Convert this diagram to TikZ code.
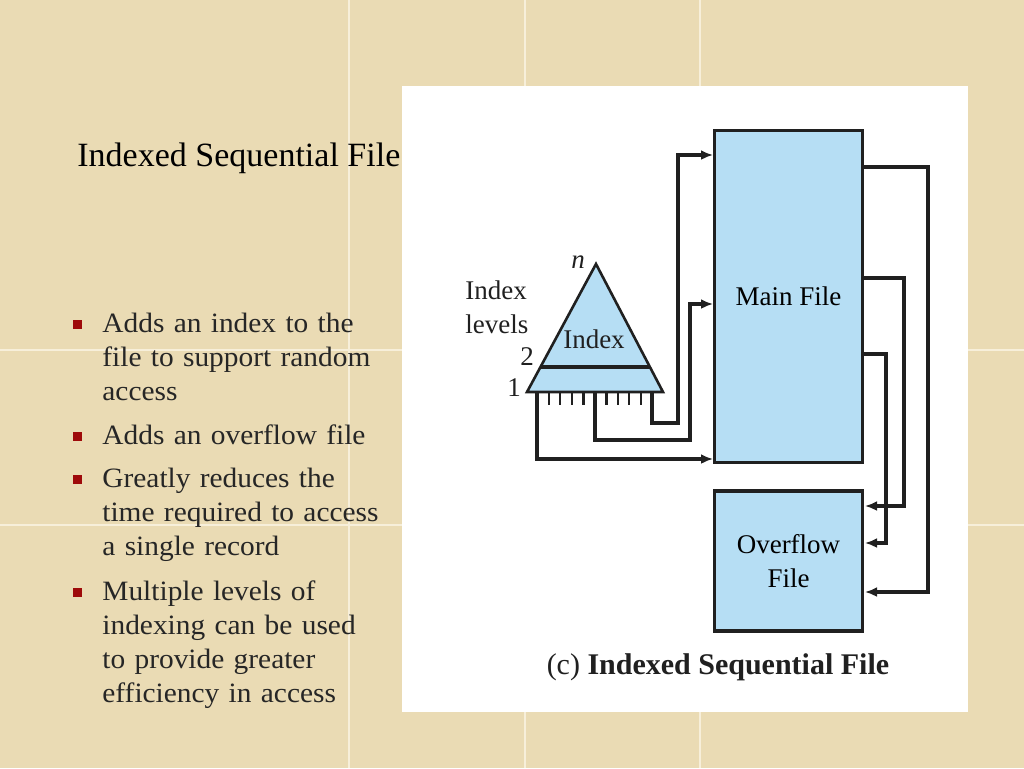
\documentclass[tikz,border=0pt]{standalone}
\usepackage{fontspec}
\setmainfont{Liberation Serif}
\newfontfamily\bulletfont[FakeStretch=1.05]{Liberation Serif}
\usetikzlibrary{arrows.meta}

\definecolor{parchment}{RGB}{234,219,180}
\definecolor{seam}{RGB}{247,239,218}
\definecolor{filefill}{RGB}{182,222,244}
\definecolor{bulletred}{RGB}{158,10,10}
\definecolor{ink}{RGB}{32,32,32}

\tikzset{
  filebox/.style={draw=ink, line width=1.9pt, fill=filefill, minimum width=74pt,
    align=center, inner sep=0pt, font=\fontsize{13.5}{17}\selectfont},
  link/.style={draw=ink, line width=1.7pt, -{Latex[length=6pt,width=5pt]}},
  label/.style={text=ink, inner sep=0pt, font=\fontsize{13.5}{17}\selectfont},
  item/.style={anchor=base west, inner sep=0pt, text width=150pt, align=left,
    text=black!85, font=\bulletfont\fontsize{14}{17.1}\selectfont},
  bullet/.style={fill=bulletred, minimum size=4.5pt, inner sep=0pt}
}

\begin{document}
\begin{tikzpicture}[x=0.5pt, y=-0.5pt]
  % slide background
  \fill[parchment] (0,0) rectangle (1024,768);
  \useasboundingbox (0,0) rectangle (1024,768);
  \foreach \sx in {349,525,700}
    \draw[seam, line width=0.6pt] (\sx,0) -- (\sx,768);
  \foreach \sy in {350,525}
    \draw[seam, line width=0.6pt] (0,\sy) -- (1024,\sy);

  % title and bullets
  \node[anchor=base west, inner sep=0pt, font=\fontsize{17}{20}\selectfont] (title) at (77,166) {Indexed Sequential File};

  \node[bullet] (b1) at (77,324) {};
  \node[item] (i1) at (102,332) {Adds an index to the\\ file to support random\\ access};
  \node[bullet] (b2) at (77,436) {};
  \node[item] (i2) at (102,444) {Adds an overflow file};
  \node[bullet] (b3) at (77,479) {};
  \node[item] (i3) at (102,487) {Greatly reduces the\\ time required to access\\ a single record};
  \node[bullet] (b4) at (77,592) {};
  \node[item] (i4) at (102,600) {Multiple levels of\\ indexing can be used\\ to provide greater\\ efficiency in access};

  % figure panel
  \fill[white] (402,86) rectangle (968,712);

  % files
  \node[filebox, minimum height=166pt] (main) at (788.5,296.5) {Main File};
  \node[filebox, minimum height=70pt] (overflow) at (788.5,561) {Overflow\\ File};

  % index triangle
  \coordinate (apex) at (596,264);
  \coordinate (bl) at (527,392);
  \coordinate (br) at (663,392);
  \filldraw[fill=filefill, draw=ink, line width=1.3pt, line join=miter] (apex) -- (bl) -- (br) -- cycle;
  \draw[ink, line width=1.8pt] (540.5,367) -- (650,367);
  \node[label] (idx) at (594,339) {Index};
  \node[label, font=\fontsize{13.5}{17}\itshape] (n) at (578,262) {n};
  \node[label, anchor=west, align=left] (levels) at (465,307) {Index\\ levels};
  \node[label] (two) at (527,357) {2};
  \node[label] (one) at (514,388) {1};

  % pointers
  \coordinate (p1) at (537,392);
  \coordinate (p2) at (595,392);
  \coordinate (p3) at (652,392);
  \foreach \tx in {548.6,560.2,571.8,583.4,606.4,617.8,629.2,640.6}
    \draw[ink, line width=1.1pt] (\tx,393) -- (\tx,405);

  \coordinate (m1) at (713,155);
  \coordinate (m2) at (713,304);
  \coordinate (m3) at (713,459);
  \draw[link] (p3) |- (678,423) |- (m1);
  \draw[link] (p2) |- (690,440) |- (m2);
  \draw[link] (p1) |- (m3);

  \coordinate (s1) at (864,167);
  \coordinate (s2) at (864,278);
  \coordinate (s3) at (864,354);
  \coordinate (o1) at (865,506);
  \coordinate (o2) at (865,543);
  \coordinate (o3) at (865,592);
  \draw[link] (s1) -| (928,592) -- (o3);
  \draw[link] (s2) -| (904,506) -- (o1);
  \draw[link] (s3) -| (886,543) -- (o2);

  \node[inner sep=0pt, text=ink, font=\fontsize{15}{18}\selectfont] (caption) at (718,667) {(c) \textbf{Indexed Sequential File}};
\end{tikzpicture}
\end{document}
